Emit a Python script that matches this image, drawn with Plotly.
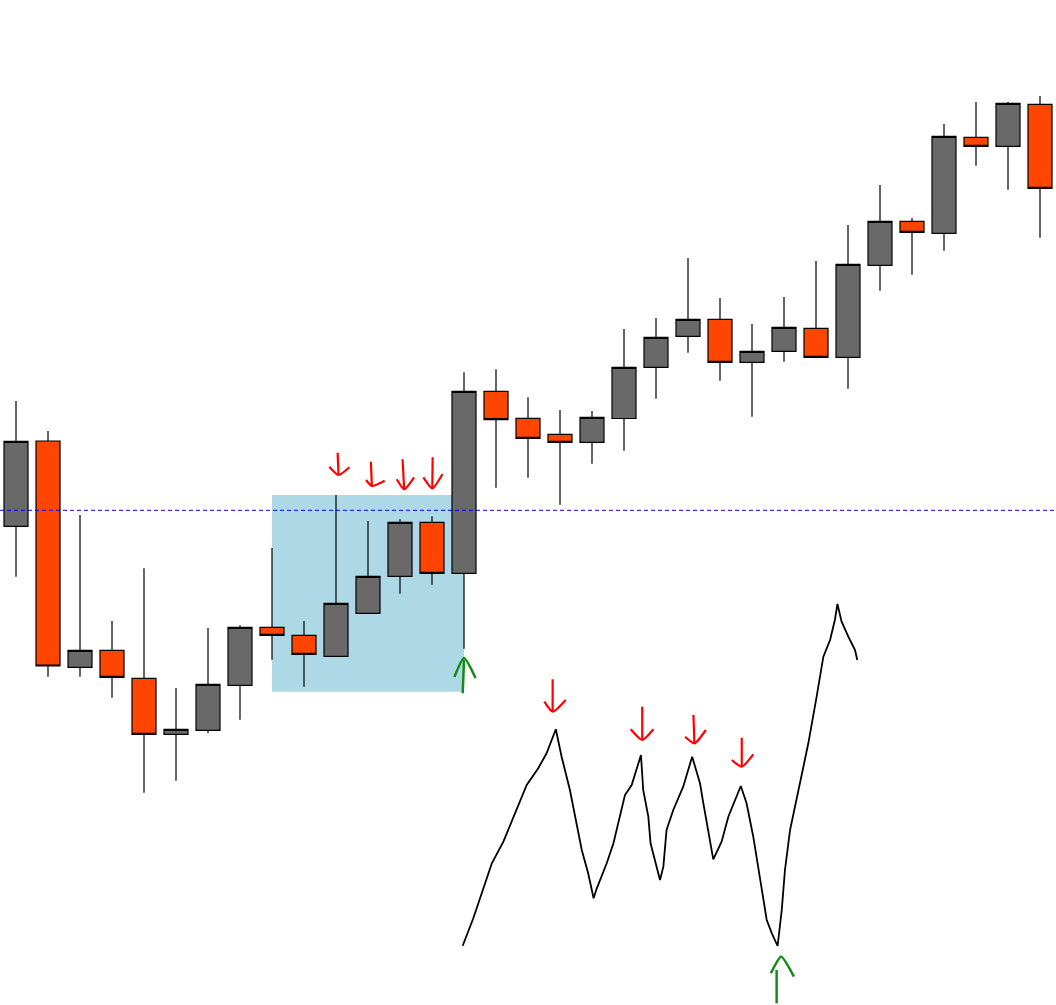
import plotly.graph_objects as go

# ---- candle data (arbitrary price units) ----
idx = list(range(33))
opens = [478.7, 564, 337.7, 354.7, 326.7, 270.7, 274.7, 319.7, 377.7, 369.7, 348.7,
         391.7, 428.7, 482.7, 431.7, 613.7, 586.7, 570.7, 562.7, 586.5, 637.7, 668.7,
         685.7, 642.7, 653.7, 676.7, 647.7, 739.7, 783.7, 771.7, 867.7, 858.7, 900.7]
highs = [604, 574, 490, 384, 436.7, 317, 377, 379.7, 457, 384, 510,
         484, 485.7, 488.7, 632.7, 635.7, 607.7, 595, 594, 676, 687, 747,
         707, 681, 708, 744, 780, 820, 787, 881, 903, 903, 909]
lows = [428.3, 328.3, 328.3, 307.3, 212.3, 224.3, 271.7, 285.3, 345.3, 318.3, 348.7,
        391.7, 411.3, 420.3, 356.3, 517.3, 527.3, 500.3, 541.3, 554.3, 606.3, 652.3,
        624.3, 588.3, 643.3, 646.7, 616.3, 714.3, 730.3, 754.3, 839.3, 815.3, 767.3]
closes = [563.7, 339, 354.7, 327.7, 270.7, 275.7, 320.7, 377.7, 369.7, 350.7, 401.7,
          428.7, 482.7, 431.7, 613.7, 585.3, 566.7, 562.7, 587.7, 637.7, 667.7, 685.7,
          642.7, 653.7, 677.7, 647.7, 740.7, 783.7, 772.7, 868.7, 858.7, 901.7, 816.7]

# highlighted zone and level
zone_x = [8, 14]
zone_y = [313.3, 510]
level_y = 494.7

# hand-drawn price sketch (x in candle-index units, y in price units)
sketch_x = [13.96, 14.29, 14.66, 14.87, 15.23, 15.96, 16.32, 16.58, 16.87, 17.05, 17.31,
            17.68, 17.88, 18.05, 18.15, 18.46, 18.67, 18.82, 19.03, 19.24, 19.53, 19.60,
            19.76, 19.83, 20.02, 20.125, 20.23, 20.33, 20.54, 20.85, 21.13, 21.375, 21.48,
            21.79, 22.05, 22.26, 22.65, 22.83, 23.04, 23.25, 23.46, 23.62, 23.80, 23.93,
            24.03, 24.19, 24.34, 24.5, 24.76, 25.02, 25.23, 25.44, 25.59, 25.67, 25.80,
            26.01, 26.22, 26.29]
sketch_y = [59.3, 86.7, 121.7, 141.7, 163.3, 220, 236.7, 251.7, 275.7, 248.3, 215,
            155, 131.7, 106.7, 116.7, 141.7, 161.7, 181.7, 210, 220, 250, 215,
            188.3, 161.7, 138.3, 125, 138.3, 175, 195, 218.3, 248.3, 221.7, 201.7,
            145.7, 163.3, 188.3, 219, 201.7, 168.3, 125, 85, 71.7, 59, 95,
            135, 175, 198.3, 225, 261.7, 308.3, 348.3, 365, 385, 401, 383.3,
            368.3, 355, 345]

# hand-drawn arrows: each arrow = shaft (2 pts) + head (3 pts), in price units
red_arrows = [
    # top arrows above the zone
    ([10.05, 10.08], [552.3, 530], [9.79, 10.08, 10.42], [538.3, 530, 537.7]),
    ([11.09, 11.12], [543.3, 519], [10.94, 11.12, 11.52], [525, 519, 524.3]),
    ([12.08, 12.13], [545.7, 515.7], [11.90, 12.13, 12.44], [525.7, 515.7, 527.7]),
    ([13.02, 13.01], [547.7, 516.7], [12.73, 13.01, 13.33], [527.7, 516.7, 531]),
    # arrows over the sketch peaks
    ([16.77, 16.77], [325.7, 293.3], [16.51, 16.77, 17.18], [303.3, 293.3, 305]),
    ([19.57, 19.57], [298.3, 265], [19.21, 19.57, 19.92], [275.7, 265, 275.7]),
    ([21.17, 21.20], [290, 261.7], [20.91, 21.20, 21.56], [268.3, 261.7, 275]),
    ([22.68, 22.68], [267.3, 238.3], [22.37, 22.68, 23.04], [245, 238.3, 250.7]),
]
green_arrows = [
    ([13.96, 14.00], [311.7, 345], [13.70, 14.00, 14.36], [328, 347, 327]),
    ([23.77, 23.77], [1.7, 35], [23.59, 23.91, 24.31], [31.7, 48.3, 28.3]),
]

fig = go.Figure()

fig.add_shape(type="rect", xref="x", yref="y", x0=zone_x[0], x1=zone_x[1],
              y0=zone_y[0], y1=zone_y[1], fillcolor="#ADD8E6",
              line=dict(width=0), layer="below")

fig.add_trace(go.Candlestick(
    x=idx, open=opens, high=highs, low=lows, close=closes,
    increasing=dict(fillcolor="#696969", line=dict(color="black", width=1.2)),
    decreasing=dict(fillcolor="#FF4500", line=dict(color="black", width=1.2)),
    whiskerwidth=0, hoverinfo="skip", showlegend=False,
))

fig.add_shape(type="line", xref="paper", yref="y", x0=0, x1=1, y0=level_y, y1=level_y,
              line=dict(color="#0000FF", width=1, dash="4px,3px"), layer="above")

fig.add_trace(go.Scatter(x=sketch_x, y=sketch_y, mode="lines",
                         line=dict(color="black", width=1.8),
                         hoverinfo="skip", showlegend=False))


def arrow_trace(arrows, color, width):
    xs, ys = [], []
    for sx, sy, hx, hy in arrows:
        xs += sx + [None] + hx + [None]
        ys += sy + [None] + hy + [None]
    return go.Scatter(x=xs, y=ys, mode="lines",
                      line=dict(color=color, width=width, shape="spline", smoothing=0.6),
                      hoverinfo="skip", showlegend=False)


fig.add_trace(arrow_trace(red_arrows, "#FF0000", 2.2))
fig.add_trace(arrow_trace(green_arrows, "#168A16", 2.5))

fig.update_layout(
    width=1056, height=1005,
    margin=dict(l=0, r=0, t=0, b=0),
    paper_bgcolor="white", plot_bgcolor="white",
    boxgap=0.25, boxgroupgap=0,
    showlegend=False,
    hovermode=False,
    xaxis=dict(range=[-0.5, 32.5], visible=False, rangeslider=dict(visible=False),
               fixedrange=True),
    yaxis=dict(range=[0, 1005], visible=False, fixedrange=True),
)

# remove the default page margin so the figure fills the window exactly
fig.write_html("out.html",
               config={"displayModeBar": False, "staticPlot": True},
               post_script="document.body.style.margin='0';document.body.style.overflow='hidden';")
